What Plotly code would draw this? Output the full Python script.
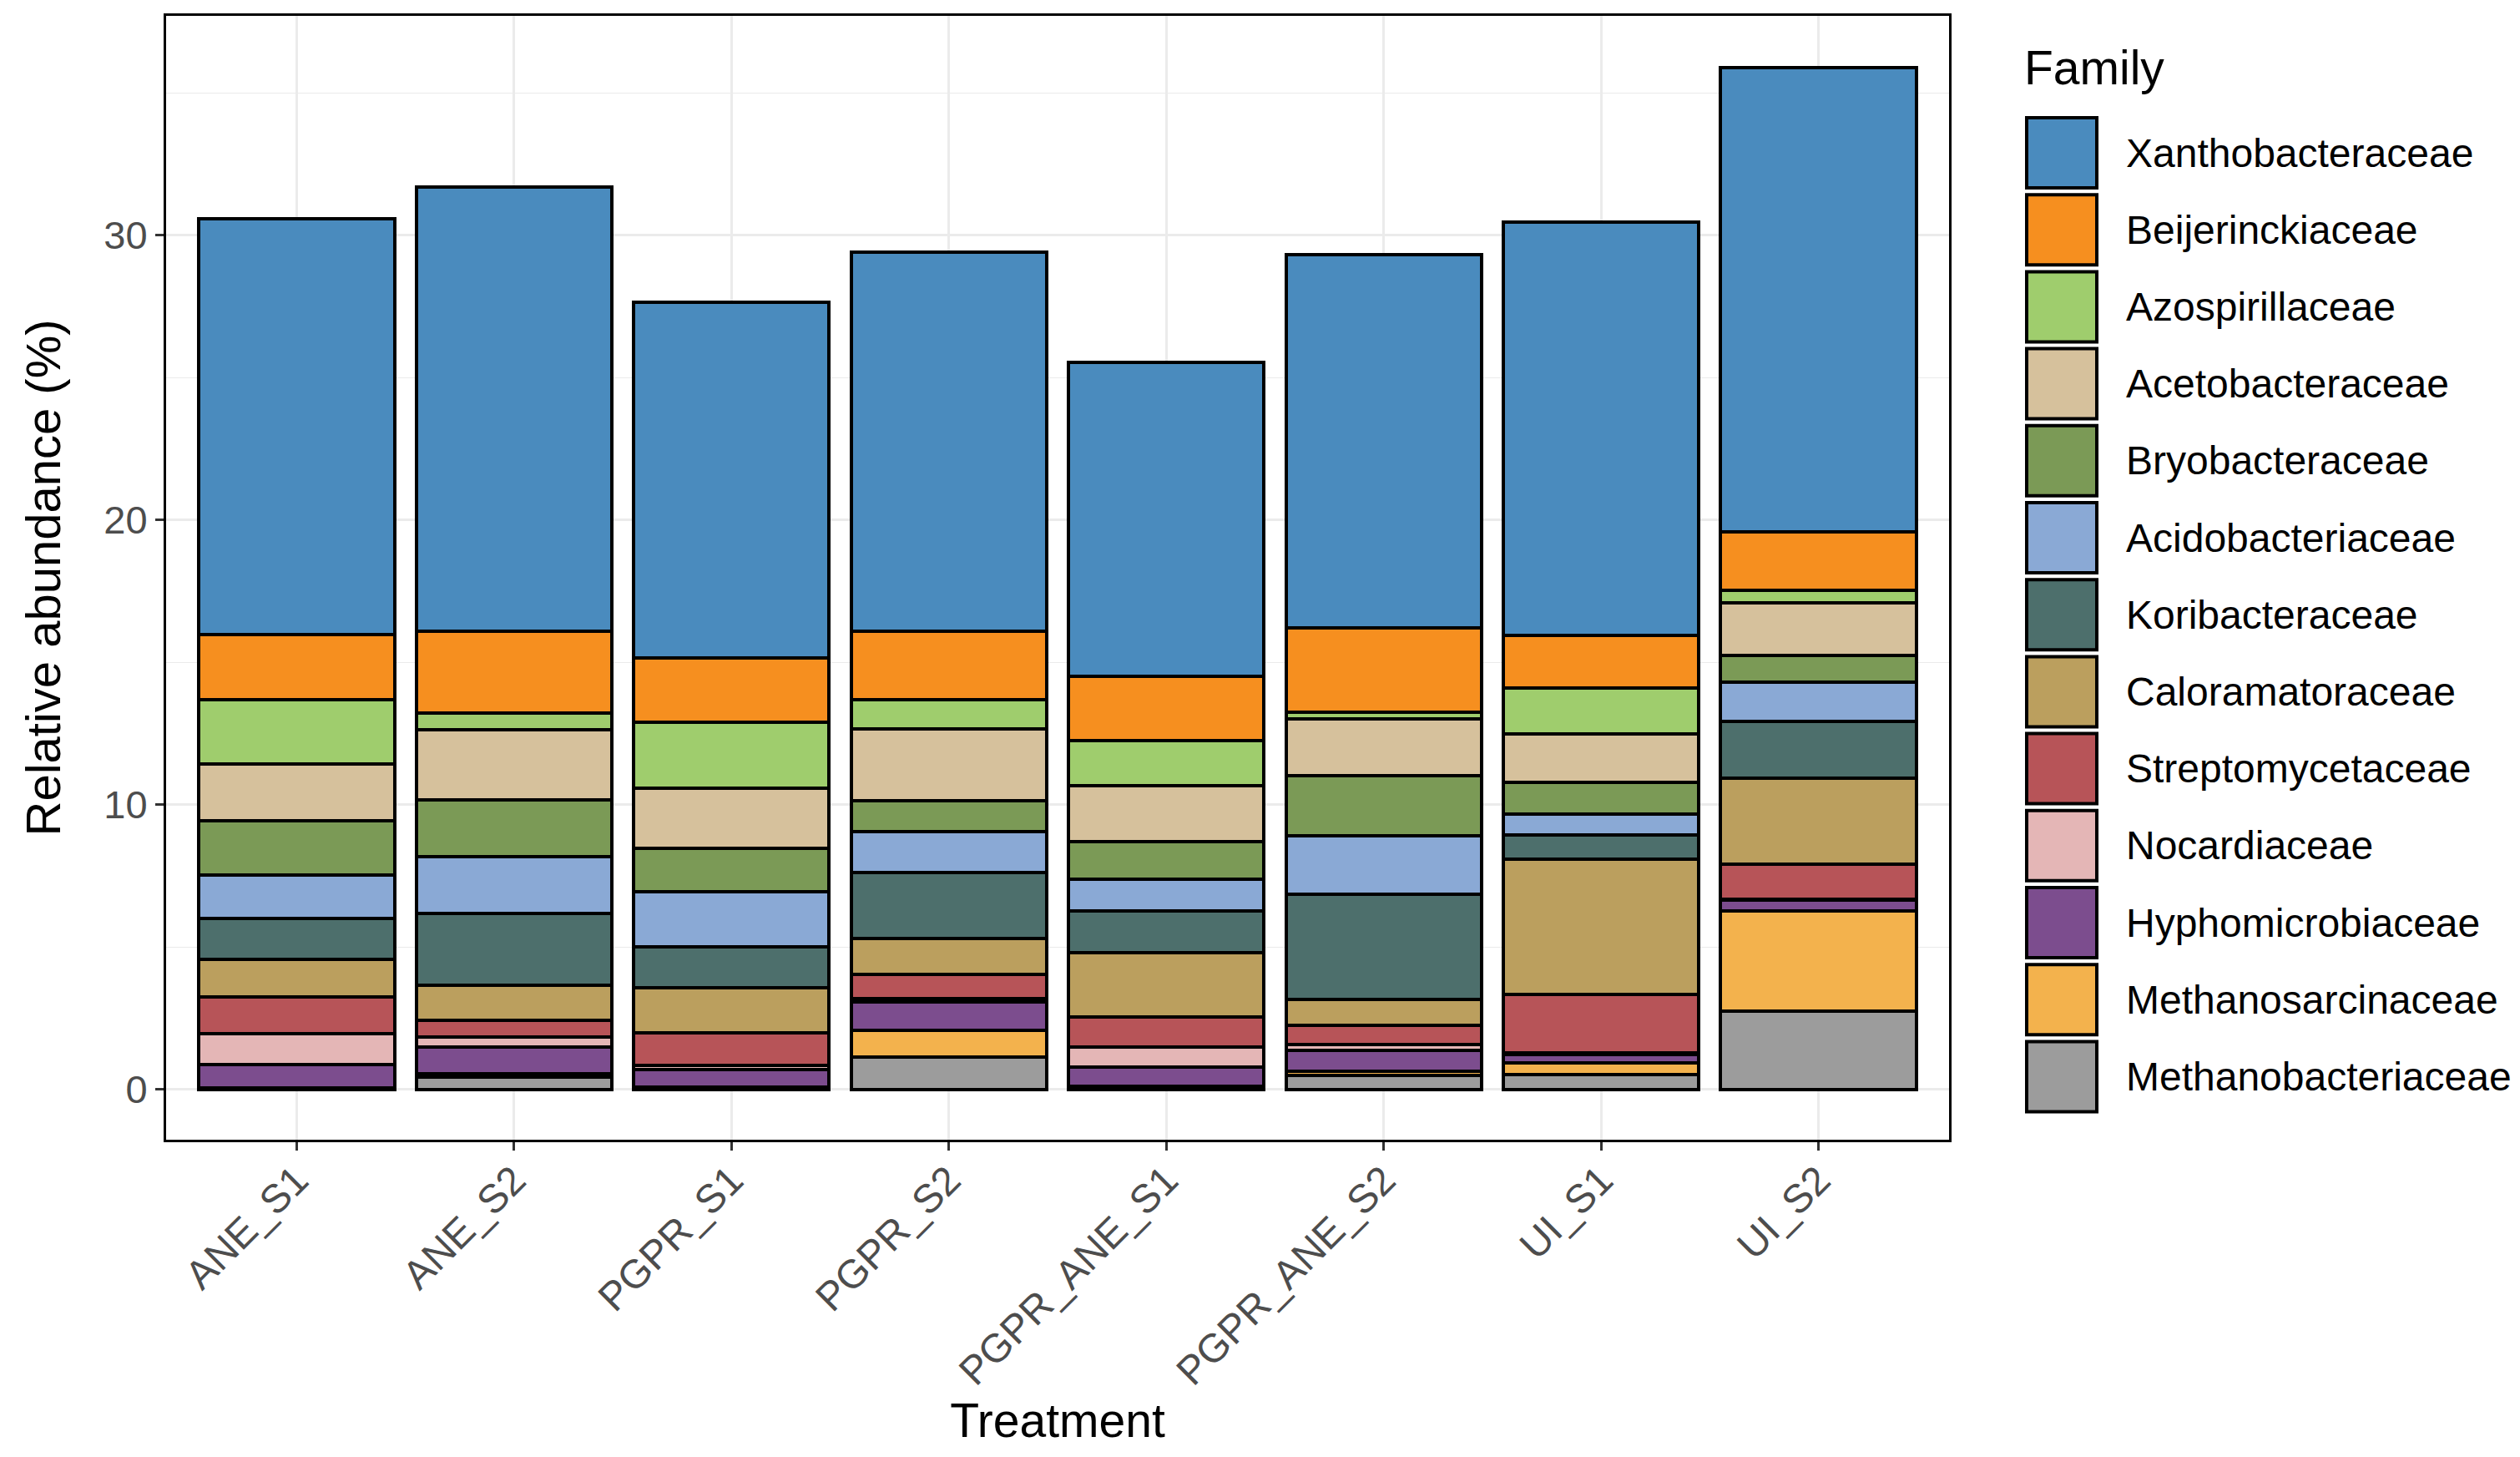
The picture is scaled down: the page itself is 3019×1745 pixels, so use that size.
import plotly.graph_objects as go

treatments = ["ANE_S1", "ANE_S2", "PGPR_S1", "PGPR_S2", "PGPR_ANE_S1", "PGPR_ANE_S2", "UI_S1", "UI_S2"]

Xanthobacteraceae = [14.6, 15.6, 12.5, 13.3, 11.0, 13.1, 14.5, 16.3]
Beijerinckiaceae = [2.28, 2.86, 2.25, 2.41, 2.26, 2.95, 1.85, 2.05]
Azospirillaceae = [2.26, 0.58, 2.31, 1.03, 1.58, 0.25, 1.60, 0.44]
Acetobacteraceae = [1.99, 2.46, 2.13, 2.51, 1.96, 1.99, 1.72, 1.84]
Bryobacteraceae = [1.91, 1.99, 1.51, 1.09, 1.32, 2.12, 1.12, 0.94]
Acidobacteriaceae = [1.53, 2.01, 1.93, 1.43, 1.13, 2.05, 0.72, 1.37]
Koribacteraceae = [1.42, 2.53, 1.45, 2.30, 1.47, 3.69, 0.84, 2.00]
Caloramatoraceae = [1.33, 1.23, 1.57, 1.28, 2.25, 0.91, 4.75, 3.02]
Streptomycetaceae = [1.29, 0.57, 1.14, 0.85, 1.06, 0.68, 2.06, 1.24]
Nocardiaceae = [1.09, 0.37, 0.16, 0.12, 0.69, 0.20, 0.06, 0.04]
Hyphomicrobiaceae = [0.80, 0.93, 0.62, 1.00, 0.68, 0.72, 0.30, 0.38]
Methanosarcinaceae = [0.02, 0.12, 0.03, 0.93, 0.06, 0.15, 0.40, 3.51]
Methanobacteriaceae = [0.05, 0.43, 0.05, 1.14, 0.06, 0.50, 0.53, 2.75]

families = ["Xanthobacteraceae", "Beijerinckiaceae", "Azospirillaceae", "Acetobacteraceae",
            "Bryobacteraceae", "Acidobacteriaceae", "Koribacteraceae", "Caloramatoraceae",
            "Streptomycetaceae", "Nocardiaceae", "Hyphomicrobiaceae", "Methanosarcinaceae",
            "Methanobacteriaceae"]
values = [Xanthobacteraceae, Beijerinckiaceae, Azospirillaceae, Acetobacteraceae,
          Bryobacteraceae, Acidobacteriaceae, Koribacteraceae, Caloramatoraceae,
          Streptomycetaceae, Nocardiaceae, Hyphomicrobiaceae, Methanosarcinaceae,
          Methanobacteriaceae]
colors = ["#4A8BBE", "#F68F1F", "#9FCD6D", "#D6C19C", "#7B9A56", "#8AA9D5", "#4D6F6C",
          "#BB9F5E", "#B75458", "#E4B6B6", "#7C4D8E", "#F3B24D", "#9C9C9C"]

W, H = 3019, 1745
L, R, T, B = 199, 684, 19, 380
PW, PH = W - L - R, H - T - B

FONT = "Liberation Sans, Arial, Helvetica, sans-serif"

fig = go.Figure()
# stack bottom-up: last family first
for fam, vals, col in reversed(list(zip(families, values, colors))):
    fig.add_trace(go.Bar(
        x=treatments, y=vals, name=fam, width=0.9,
        marker=dict(color=col, line=dict(color="black", width=4)),
        showlegend=False,
    ))

fig.update_layout(
    barmode="stack",
    width=W, height=H,
    margin=dict(l=L, r=R, t=T, b=B),
    paper_bgcolor="white", plot_bgcolor="white",
    font=dict(family=FONT),
)

fig.update_yaxes(
    range=[-1.76, 37.7],
    tickvals=[0, 10, 20, 30],
    ticks="outside", ticklen=10, tickwidth=2.5, tickcolor="#333333",
    tickfont=dict(size=47, color="#4D4D4D", family=FONT),
    showgrid=True, gridcolor="#EBEBEB", gridwidth=2.5,
    minor=dict(dtick=5, tick0=0, showgrid=True, gridcolor="#EBEBEB", gridwidth=1.3, ticks=""),
    zeroline=False,
    showline=True, mirror=True, linecolor="black", linewidth=3,
    title=dict(text="Relative abundance (%)", font=dict(size=58, color="black", family=FONT), standoff=34),
)
fig.update_xaxes(
    type="category",
    range=[-0.6, 7.6],
    ticks="outside", ticklen=10, tickwidth=2.5, tickcolor="#333333",
    tickangle=-45,
    ticklabelstandoff=-12,
    tickfont=dict(size=48, color="#4D4D4D", family=FONT),
    showgrid=True, gridcolor="#EBEBEB", gridwidth=2.5,
    zeroline=False,
    showline=True, mirror=True, linecolor="black", linewidth=3,
    title=dict(text="Treatment", font=dict(size=57, color="black", family=FONT), standoff=4),
)

# Manual legend (ggplot-style large keys); positions given in page pixels
def px_to_paper_x(px):
    return (px - L) / PW

def px_to_paper_y(py):
    return (H - B - py) / PH

fig.add_annotation(
    x=px_to_paper_x(2423), y=px_to_paper_y(81), xref="paper", yref="paper",
    text="Family", showarrow=False, xanchor="left", yanchor="middle",
    font=dict(size=57, color="black", family=FONT),
)
key_w, key_h = 84, 84
first_center = 183
step = 92.2
for i, (fam, col) in enumerate(zip(families, colors)):
    cy = first_center + i * step
    fig.add_shape(
        type="rect", xref="paper", yref="paper",
        x0=px_to_paper_x(2428), x1=px_to_paper_x(2428 + key_w),
        y0=px_to_paper_y(cy + key_h / 2), y1=px_to_paper_y(cy - key_h / 2),
        fillcolor=col, line=dict(color="black", width=4), layer="above",
    )
    fig.add_annotation(
        x=px_to_paper_x(2545), y=px_to_paper_y(cy), xref="paper", yref="paper",
        text=fam, showarrow=False, xanchor="left", yanchor="middle",
        font=dict(size=48, color="black", family=FONT),
    )

fig.write_html(
    "out.html",
    config={"displayModeBar": False},
    post_script="document.body.style.margin='0';document.body.style.overflow='hidden';",
)
